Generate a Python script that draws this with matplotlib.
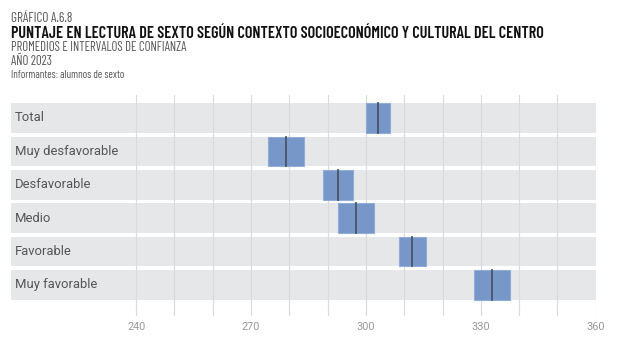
import matplotlib.pyplot as plt
import matplotlib.transforms as mtransforms
from matplotlib import font_manager
import numpy as np

# data
categorias = ['Total', 'Muy desfavorable', 'Desfavorable', 'Medio', 'Favorable', 'Muy favorable']
promedio = [303.1, 279.0, 292.7, 297.3, 312.1, 332.9]
lim_inf = [300.0, 274.4, 288.8, 292.6, 308.7, 328.1]
lim_sup = [306.3, 283.8, 296.7, 302.1, 315.6, 337.7]
ticks = [240, 270, 300, 330, 360]
grid_x = [240, 250, 260, 270, 280, 290, 300, 310, 320, 330, 340, 350, 360]

# condensed font for the headings if there is one, otherwise Roboto a bit smaller
instaladas = set(f.name for f in font_manager.fontManager.ttflist)
if 'Barlow Condensed' in instaladas:
    fuente_tit, esc = 'Barlow Condensed', 1.0
else:
    fuente_tit, esc = 'Roboto', 0.8

fig = plt.figure(figsize=(6.24, 3.55), dpi=100)
ax = fig.add_axes([0.0176, 0.1099, 0.937, 0.6225])

xmin, xmax = 207.3, 360
y = np.arange(len(categorias))
alto = 0.886

# gray bands behind each row
ax.barh(y, xmax - xmin, left=xmin, height=alto, color='#e6e7e9', zorder=1)

for gx in grid_x:
    ax.axvline(gx, color='#d9dadd', lw=0.8, zorder=2)

# confidence intervals and means
ax.barh(y, np.array(lim_sup) - np.array(lim_inf), left=lim_inf, height=alto,
        color='#6b8fc6', alpha=0.9, edgecolor='#8eaad6', lw=0.8, zorder=3)
for yi, m in zip(y, promedio):
    ax.plot([m, m], [yi - alto / 2, yi + alto / 2], color='#4a5566', lw=1.3, zorder=4)

trans = mtransforms.blended_transform_factory(ax.transAxes, ax.transData)
for yi, cat in zip(y, categorias):
    ax.text(0.0068, yi, cat, transform=trans, va='center', ha='left',
            fontsize=9.4, family='Roboto', color='#555555', zorder=5)

ax.set_xlim(xmin, xmax)
ax.set_ylim(5.93, -0.686)
ax.set_xticks(ticks)
ax.set_xticklabels([str(t) for t in ticks], fontsize=7.8, family='Roboto', color='#999999')
ax.tick_params(axis='x', length=0, pad=4)
ax.set_yticks([])
for s in ax.spines.values():
    s.set_visible(False)

# headings
x0 = 0.0176
fig.text(x0, 1 - 18.5 / 355, 'GRÁFICO A.6.8', fontsize=9.5 * esc, family=fuente_tit,
         color='#555555', va='center')
fig.text(x0, 1 - 33.5 / 355,
         'PUNTAJE EN LECTURA DE SEXTO SEGÚN CONTEXTO SOCIOECONÓMICO Y CULTURAL DEL CENTRO',
         fontsize=11.65 * esc, family=fuente_tit, weight='semibold', color='#111111', va='center')
fig.text(x0, 1 - 47.5 / 355, 'PROMEDIOS E INTERVALOS DE CONFIANZA', fontsize=9.2 * esc,
         family=fuente_tit, color='#555555', va='center')
fig.text(x0, 1 - 61.5 / 355, 'AÑO 2023', fontsize=9.2 * esc, family=fuente_tit,
         color='#555555', va='center')
fig.text(x0, 1 - 75.5 / 355, 'Informantes: alumnos de sexto', fontsize=7.8 * esc,
         family=fuente_tit, color='#555555', va='center')

plt.savefig('out.png', dpi=100)
